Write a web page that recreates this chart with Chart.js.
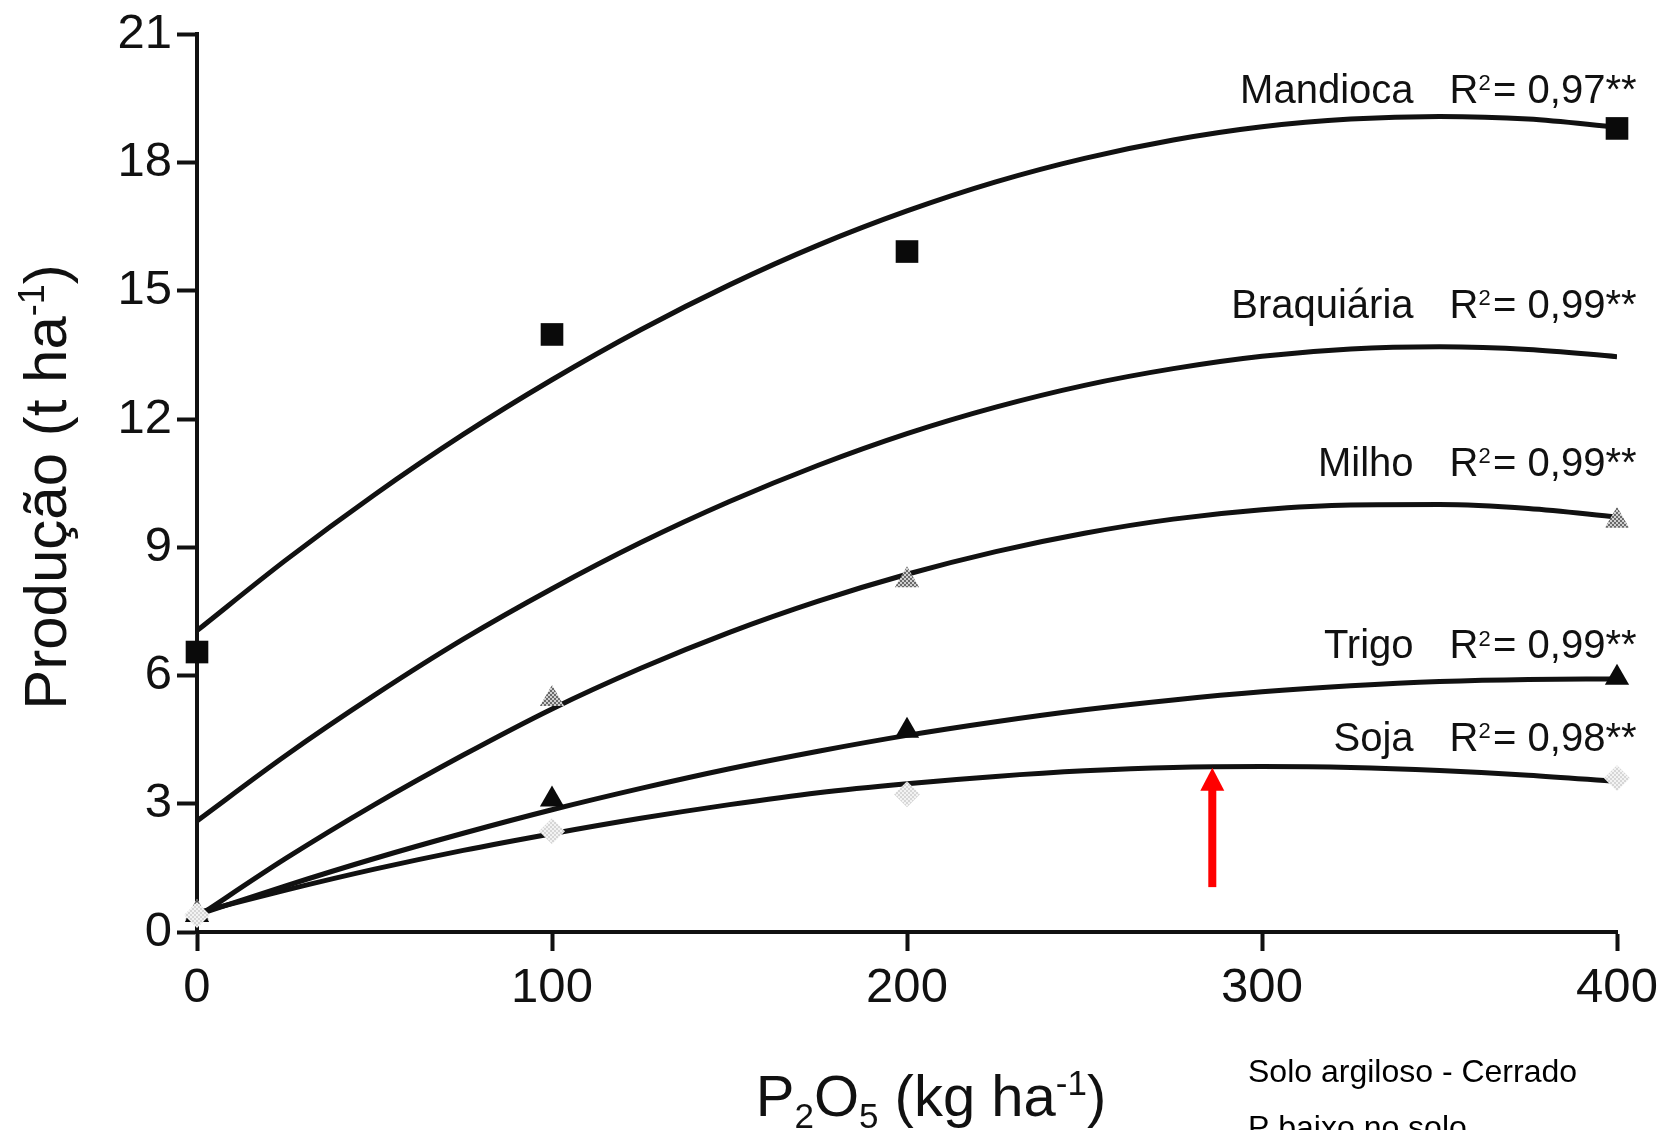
<!DOCTYPE html>
<html lang="pt">
<head>
<meta charset="utf-8">
<title>Produção x P2O5</title>
<script src="https://cdn.jsdelivr.net/npm/chart.js@4.4.1/dist/chart.umd.min.js"></script>
<style>
  html, body { margin: 0; padding: 0; background: #ffffff; }
  #wrap { width: 1671px; height: 1130px; }
</style>
</head>
<body>
<div id="wrap"><canvas id="chart" width="1671" height="1130"></canvas></div>
<script>
// Doses de P2O5 (kg/ha) com produção observada
const doses = [0, 100, 200, 400];
const mandiocaObs = [6.55, 13.98, 15.92, 18.80];
const milhoObs = [0.45, 5.45, 8.23, 9.62];
const trigoObs = [0.40, 3.10, 4.71, 5.95];
const sojaObs = [0.40, 2.36, 3.22, 3.60];

// Curvas ajustadas (leitura a cada 25 kg/ha)
const curveX = [0, 25, 50, 75, 100, 125, 150, 175, 200, 225, 250, 275, 300, 325, 350, 375, 400];
const mandiocaFit = [7.05, 8.70, 10.23, 11.64, 12.92, 14.09, 15.14, 16.07, 16.87, 17.55, 18.10, 18.53, 18.84, 19.02, 19.08, 19.02, 18.83];
const braquiariaFit = [2.60, 4.13, 5.54, 6.85, 8.03, 9.11, 10.07, 10.92, 11.66, 12.28, 12.79, 13.18, 13.47, 13.64, 13.69, 13.63, 13.46];
const milhoFit = [0.35, 1.72, 2.98, 4.14, 5.22, 6.17, 7.01, 7.74, 8.37, 8.90, 9.33, 9.66, 9.88, 9.99, 10.00, 9.91, 9.71];
const trigoFit = [0.40, 1.08, 1.72, 2.31, 2.86, 3.36, 3.82, 4.23, 4.60, 4.92, 5.20, 5.43, 5.62, 5.76, 5.86, 5.91, 5.92];
const sojaFit = [0.45, 0.98, 1.47, 1.91, 2.30, 2.66, 2.98, 3.26, 3.47, 3.64, 3.77, 3.85, 3.87, 3.85, 3.78, 3.67, 3.52];

// Rótulos das culturas e coeficientes de determinação
const cropNames = ['Mandioca', 'Braquiária', 'Milho', 'Trigo', 'Soja'];
const r2Values = ['0,97', '0,99', '0,99', '0,99', '0,98'];

// Eixos
const xTickValues = [0, 100, 200, 300, 400];
const yTickValues = [0, 3, 6, 9, 12, 15, 18, 21];

// Seta indicando o máximo da soja (dose, produção inicial e final)
const arrowDose = 286;
const arrowRange = [1.05, 3.84];

const FONT = "'Liberation Sans', Arial, Helvetica, sans-serif";
const INK = '#111111';

function dotPattern(base, dot) {
  const c = document.createElement('canvas');
  c.width = 4; c.height = 4;
  const g = c.getContext('2d');
  g.fillStyle = base; g.fillRect(0, 0, 4, 4);
  g.fillStyle = dot; g.fillRect(0, 0, 2, 2); g.fillRect(2, 2, 2, 2);
  return g.createPattern(c, 'repeat');
}

const pts = (xs, ys) => xs.map((v, i) => ({ x: v, y: ys[i] }));

function fitLine(values) {
  return {
    type: 'line',
    data: pts(curveX, values),
    borderColor: INK,
    borderWidth: 5,
    pointRadius: 0,
    fill: false,
    cubicInterpolationMode: 'monotone',
    order: 2
  };
}

function markers(values, style, radius, fillColor) {
  return {
    type: 'scatter',
    data: pts(doses, values),
    pointStyle: style,
    pointRadius: radius,
    pointHoverRadius: radius,
    pointBackgroundColor: fillColor,
    pointBorderWidth: 0,
    borderWidth: 0,
    showLine: false,
    clip: false,
    order: 1
  };
}

// Texto com índices e expoentes
function richWidth(ctx, parts, size) {
  let w = 0;
  for (const p of parts) {
    ctx.font = `${Math.round((p.s || 1) * size)}px ${FONT}`;
    w += ctx.measureText(p.t).width + (p.gap || 0) * size;
  }
  return w;
}
function drawRich(ctx, parts, x, y, size, align) {
  const w = richWidth(ctx, parts, size);
  let cx = align === 'right' ? x - w : align === 'center' ? x - w / 2 : x;
  ctx.textAlign = 'left';
  ctx.textBaseline = 'alphabetic';
  for (const p of parts) {
    ctx.font = `${Math.round((p.s || 1) * size)}px ${FONT}`;
    ctx.fillText(p.t, cx, y + (p.dy || 0) * size);
    cx += ctx.measureText(p.t).width + (p.gap || 0) * size;
  }
}

const textLayer = {
  id: 'textLayer',
  afterDatasetsDraw(chart, args, opts) {
    const { ctx, scales: { x, y } } = chart;
    ctx.save();
    ctx.fillStyle = INK;

    // rótulos das curvas
    cropNames.forEach((name, i) => {
      const px = x.getPixelForValue(opts.labelDose);
      const py = y.getPixelForValue(opts.labelY[i]);
      const r2 = [
        { t: 'R' },
        { t: '2', s: 0.55, dy: -0.32, gap: 0.06 },
        { t: '= ' + r2Values[i] + '**' }
      ];
      const rw = richWidth(ctx, r2, opts.labelSize);
      drawRich(ctx, r2, px, py, opts.labelSize, 'right');
      drawRich(ctx, [{ t: name }], px - rw - opts.labelGap, py, opts.labelSize, 'right');
    });

    // título do eixo x
    const xt = [
      { t: 'P' }, { t: '2', s: 0.6, dy: 0.2 }, { t: 'O' }, { t: '5', s: 0.6, dy: 0.2 },
      { t: ' (kg ha' }, { t: '-1', s: 0.6, dy: -0.36 }, { t: ')' }
    ];
    drawRich(ctx, xt, opts.xTitle.x, opts.xTitle.y, opts.xTitleSize, 'center');

    // título do eixo y
    ctx.save();
    ctx.translate(opts.yTitle.x, opts.yTitle.y);
    ctx.rotate(-Math.PI / 2);
    const yt = [{ t: 'Produção (t ha' }, { t: '-1', s: 0.6, dy: -0.36 }, { t: ')' }];
    drawRich(ctx, yt, 0, 0, opts.yTitleSize, 'center');
    ctx.restore();

    // nota sobre o solo
    ctx.fillStyle = '#000000';
    ctx.font = `${opts.noteSize}px ${FONT}`;
    ctx.textAlign = 'left';
    ctx.fillText('Solo argiloso - Cerrado', opts.note.x, opts.note.y);
    ctx.fillText('P baixo no solo', opts.note.x, opts.note.y + opts.noteLead);

    // seta vermelha
    const ax = x.getPixelForValue(arrowDose);
    const yb = y.getPixelForValue(arrowRange[0]);
    const ytip = y.getPixelForValue(arrowRange[1]);
    ctx.fillStyle = '#ff0000';
    ctx.fillRect(ax - 4, ytip + 22, 8, yb - ytip - 22);
    ctx.beginPath();
    ctx.moveTo(ax, ytip);
    ctx.lineTo(ax - 12, ytip + 23);
    ctx.lineTo(ax + 12, ytip + 23);
    ctx.closePath();
    ctx.fill();
    ctx.restore();
  }
};

const milhoFill = dotPattern('#d0d0d0', '#6a6a6a');
const sojaFill = dotPattern('#f3f3f3', '#d6d6d6');

new Chart(document.getElementById('chart'), {
  data: {
    datasets: [
      fitLine(mandiocaFit),
      fitLine(braquiariaFit),
      fitLine(milhoFit),
      fitLine(trigoFit),
      fitLine(sojaFit),
      markers(sojaObs, 'rectRot', 13, sojaFill),
      markers(trigoObs, 'triangle', 14, '#0a0a0a'),
      markers(milhoObs, 'triangle', 14, milhoFill),
      markers(mandiocaObs, 'rect', 16, '#0a0a0a')
    ]
  },
  options: {
    responsive: false,
    devicePixelRatio: 1,
    animation: false,
    events: [],
    layout: { padding: { top: 30, right: 54, left: 0, bottom: 0 } },
    plugins: {
      legend: { display: false },
      tooltip: { enabled: false },
      textLayer: {
        labelDose: 405.5,
        labelY: [19.40, 14.36, 10.67, 6.40, 4.24],
        labelSize: 40,
        labelGap: 36,
        xTitleSize: 58,
        yTitleSize: 60,
        xTitle: { x: 931, y: 1116 },
        yTitle: { x: 66, y: 487 },
        noteSize: 32,
        note: { x: 1248, y: 1082 },
        noteLead: 56
      }
    },
    scales: {
      x: {
        type: 'linear',
        min: 0,
        max: 400,
        afterBuildTicks: (s) => { s.ticks = xTickValues.map(v => ({ value: v })); },
        ticks: { font: { size: 49, family: FONT }, color: INK, padding: 8, maxRotation: 0 },
        grid: { drawOnChartArea: false, drawTicks: true, tickLength: 19, tickWidth: 4, tickColor: INK },
        border: { display: true, width: 4, color: INK },
        afterFit: (s) => { s.height = 198; }
      },
      y: {
        type: 'linear',
        min: 0,
        max: 21,
        afterBuildTicks: (s) => { s.ticks = yTickValues.map(v => ({ value: v })); },
        ticks: { font: { size: 49, family: FONT }, color: INK, padding: 5 },
        grid: { drawOnChartArea: false, drawTicks: true, tickLength: 20, tickWidth: 4, tickColor: INK },
        border: { display: true, width: 4, color: INK },
        afterFit: (s) => { s.width = 197; }
      }
    }
  },
  plugins: [textLayer]
});
</script>
</body>
</html>
